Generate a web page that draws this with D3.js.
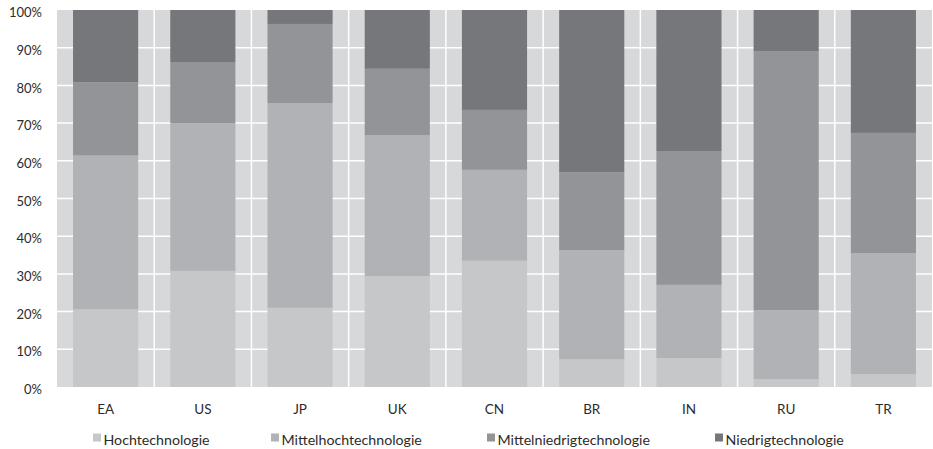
<!DOCTYPE html>
<html>
<head>
<meta charset="utf-8">
<script src="https://cdn.jsdelivr.net/npm/d3@7"></script>
<style>
	body { margin: 0; background: #fff; }
	text { font-family: Lato, "Open Sans", sans-serif; fill: #2b2b2b; }
</style>
</head>
<body>
<div id="chart"></div>
<script>
// Countries on the x axis
const countries = ["EA", "US", "JP", "UK", "CN", "BR", "IN", "RU", "TR"];

// Technology groups, stacked bottom to top
const groups = ["Hochtechnologie", "Mittelhochtechnologie", "Mittelniedrigtechnologie", "Niedrigtechnologie"];

// Shares in percent, one array per group (same order as countries)
const hoch = [20.6, 30.8, 21.0, 29.4, 33.5, 7.4, 7.7, 2.1, 3.4];
const mittelhoch = [40.8, 39.2, 54.3, 37.4, 24.1, 28.9, 19.4, 18.3, 32.1];
const mittelniedrig = [19.4, 16.2, 21.0, 17.6, 15.9, 20.7, 35.5, 68.7, 31.9];
const niedrig = [19.2, 13.8, 3.7, 15.6, 26.5, 43.0, 37.4, 10.9, 32.6];

const yTicks = [0, 10, 20, 30, 40, 50, 60, 70, 80, 90, 100];

const colors = ["#c6c7c9", "#b1b2b5", "#939497", "#76777b"];

const width = 933;
const height = 449;
const margin = { top: 10, right: 1, bottom: 62, left: 57 };

// Build rows for the stack
const series = [hoch, mittelhoch, mittelniedrig, niedrig];
const rows = countries.map((c, i) => {
	const row = { country: c };
	groups.forEach((g, j) => (row[g] = series[j][i]));
	return row;
});

const stacked = d3.stack().keys(groups)(rows);

const x = d3
	.scaleBand()
	.domain(countries)
	.range([margin.left, width - margin.right])
	.paddingInner(0.33)
	.paddingOuter(0.165);

const xBand = d3
	.scaleBand()
	.domain(countries)
	.range([margin.left, width - margin.right]);

const y = d3
	.scaleLinear()
	.domain([0, 100])
	.range([height - margin.bottom, margin.top]);

const svg = d3
	.select("#chart")
	.append("svg")
	.attr("width", width)
	.attr("height", height);

// Plot background
svg.append("rect")
	.attr("x", margin.left)
	.attr("y", margin.top)
	.attr("width", width - margin.left - margin.right)
	.attr("height", y(0) - margin.top)
	.attr("fill", "#d7d8da");

// Horizontal gridlines
svg.append("g")
	.selectAll("line")
	.data(yTicks.slice(1, -1))
	.join("line")
	.attr("x1", margin.left)
	.attr("x2", width - margin.right)
	.attr("y1", (d) => y(d))
	.attr("y2", (d) => y(d))
	.attr("stroke", "#fff")
	.attr("stroke-width", 1.5);

// Vertical separators between categories
svg.append("g")
	.selectAll("line")
	.data(countries.slice(1))
	.join("line")
	.attr("x1", (d) => xBand(d))
	.attr("x2", (d) => xBand(d))
	.attr("y1", margin.top)
	.attr("y2", y(0))
	.attr("stroke", "#fff")
	.attr("stroke-width", 1.5);

// Stacked bars
svg.append("g")
	.selectAll("g")
	.data(stacked)
	.join("g")
	.attr("fill", (d, i) => colors[i])
	.selectAll("rect")
	.data((d) => d)
	.join("rect")
	.attr("x", (d) => x(d.data.country))
	.attr("width", x.bandwidth())
	.attr("y", (d) => y(d[1]))
	.attr("height", (d) => y(d[0]) - y(d[1]));

// Y axis labels
const yAxis = d3
	.axisLeft(y)
	.tickValues(yTicks)
	.tickSize(0)
	.tickPadding(15)
	.tickFormat((d) => d + "%");

svg.append("g")
	.attr("transform", `translate(${margin.left},2.5)`)
	.call(yAxis)
	.call((g) => g.select(".domain").remove())
	.selectAll("text")
	.style("font-size", "13px")
	.style("font-family", "Lato, sans-serif")
	.attr("fill", "#2b2b2b");

// X axis labels
const xAxis = d3.axisBottom(xBand).tickSize(0).tickPadding(17);

svg.append("g")
	.attr("transform", `translate(0,${y(0)})`)
	.call(xAxis)
	.call((g) => g.select(".domain").remove())
	.selectAll("text")
	.style("font-size", "13.5px")
	.style("font-family", "Lato, sans-serif")
	.attr("fill", "#2b2b2b");

// Legend
const legendX = [93, 271, 487, 715];
const legend = svg
	.append("g")
	.selectAll("g")
	.data(groups)
	.join("g")
	.attr("transform", (d, i) => `translate(${legendX[i]},433.5)`);

legend.append("rect")
	.attr("width", 8)
	.attr("height", 8)
	.attr("fill", (d, i) => colors[i]);

legend.append("text")
	.attr("x", 10.5)
	.attr("y", 11.5)
	.style("font-size", "14.2px")
	.text((d) => d);
</script>
</body>
</html>
